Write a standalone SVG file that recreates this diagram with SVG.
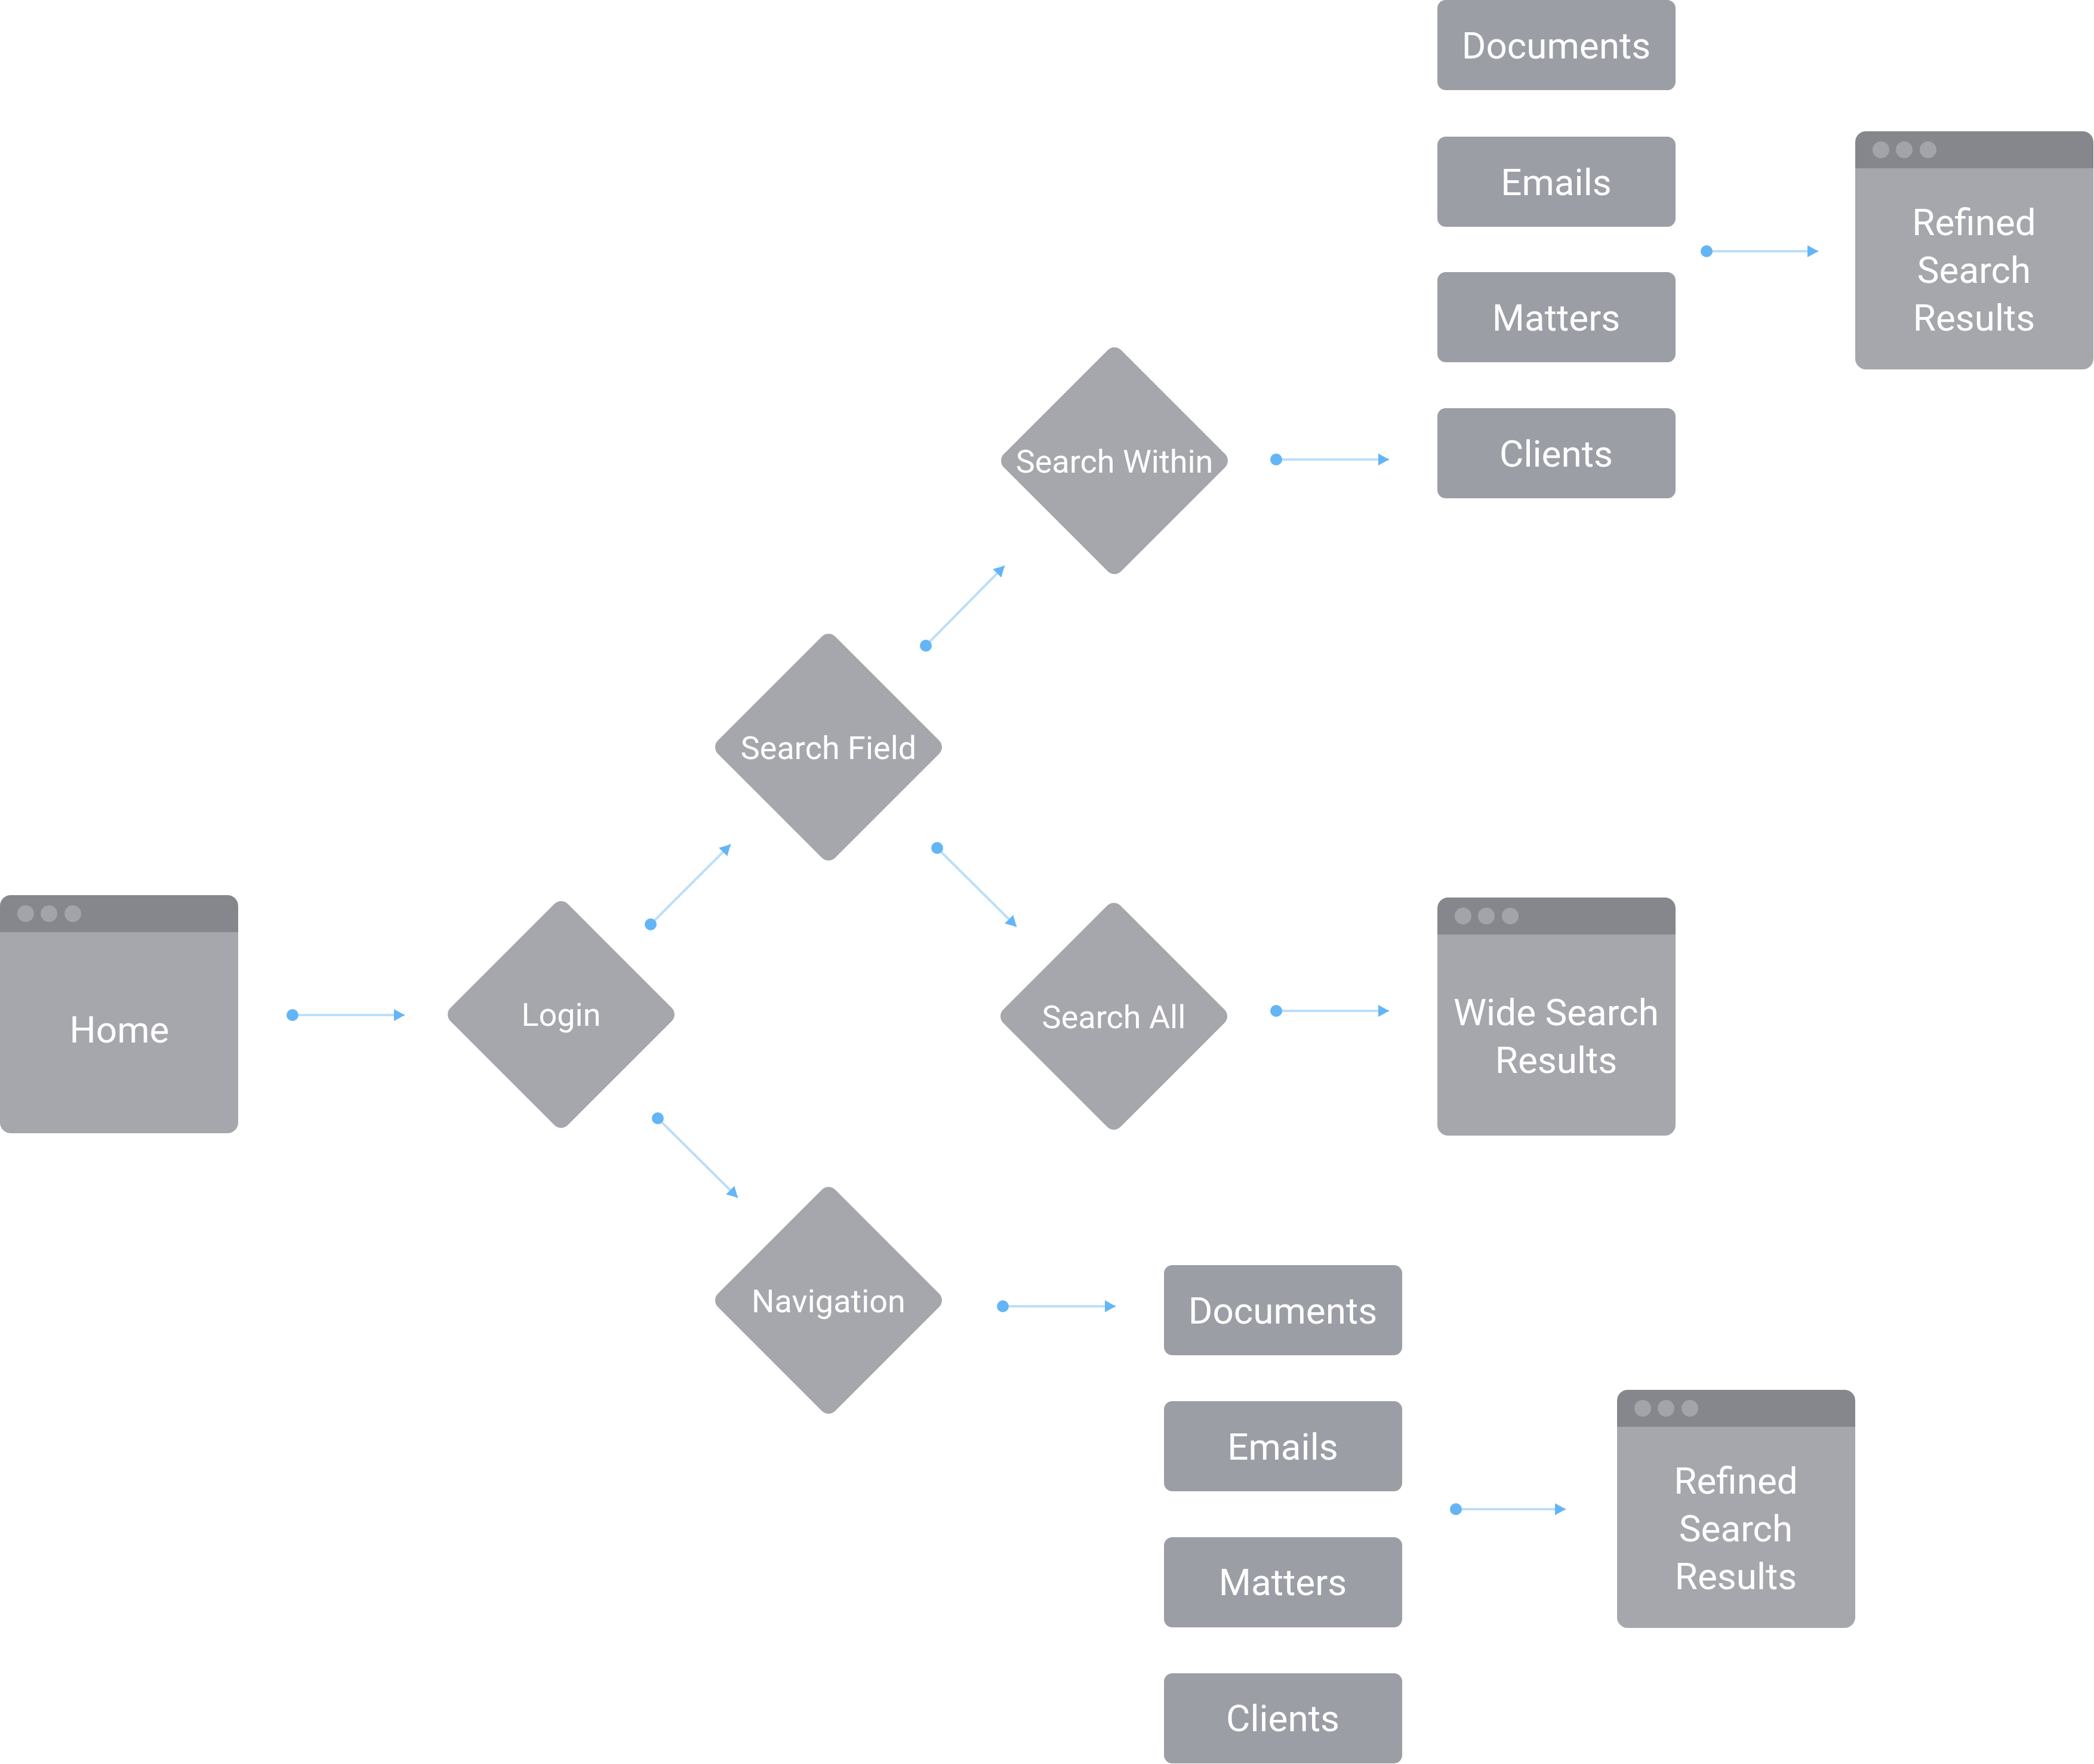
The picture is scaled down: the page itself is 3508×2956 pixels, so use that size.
<svg xmlns="http://www.w3.org/2000/svg" width="3508" height="2956" viewBox="0 0 3508 2956">
<style>
  .body{fill:#A6A7AC}
  .bar{fill:#86878C}
  .dot{fill:#A3A4A9}
  .box{fill:#9C9EA5}
  .dia{fill:#A6A7AC}
  .t{font-family:Roboto,"Liberation Sans",sans-serif;fill:#FFFFFF;text-anchor:middle}
  .tl{font-size:62px}
  .ts{font-size:54px}
  .conn line{stroke:#BBDEFB;stroke-width:4;fill:none;marker-start:url(#dotm);marker-end:url(#arr)}
</style>
<defs>
  <marker id="dotm" markerUnits="userSpaceOnUse" markerWidth="24" markerHeight="24" refX="12" refY="12" orient="auto">
    <circle cx="12" cy="12" r="10" fill="#64B5F6"/>
  </marker>
  <marker id="arr" markerUnits="userSpaceOnUse" markerWidth="22" markerHeight="22" refX="18" refY="11" orient="auto">
    <path d="M0,1 L18,11 L0,21 Z" fill="#64B5F6"/>
  </marker>
  <g id="win">
    <path class="bar" d="M0,62 V18 A18,18 0 0 1 18,0 H381 A18,18 0 0 1 399,18 V62 Z"/>
    <path class="body" d="M0,62 H399 V381 A18,18 0 0 1 381,399 H18 A18,18 0 0 1 0,381 Z"/>
    <circle class="dot" cx="43" cy="31" r="14"/>
    <circle class="dot" cx="82" cy="31" r="14"/>
    <circle class="dot" cx="122" cy="31" r="14"/>
  </g>
  <rect id="dm" x="-139" y="-139" width="278" height="278" rx="16" ry="16" transform="rotate(45)"/>
</defs>

<g id="connectors" class="conn">
  <line x1="490" y1="1701" x2="678" y2="1701"/>
  <line x1="1090" y1="1549" x2="1224" y2="1415"/>
  <line x1="1102" y1="1874" x2="1236" y2="2007"/>
  <line x1="1551" y1="1082" x2="1683" y2="948"/>
  <line x1="1570" y1="1421" x2="1703" y2="1553"/>
  <line x1="2138" y1="770" x2="2327" y2="770"/>
  <line x1="2138" y1="1694" x2="2327" y2="1694"/>
  <line x1="2859" y1="421" x2="3046" y2="421"/>
  <line x1="1680" y1="2189" x2="1869" y2="2189"/>
  <line x1="2439" y1="2529" x2="2623" y2="2529"/>
</g>

<g id="home">
  <use href="#win" x="0" y="1500"/>
  <text class="t tl" x="200" y="1747">Home</text>
</g>

<g id="login">
  <use href="#dm" class="dia" transform="translate(940,1700)"/>
  <text class="t ts" x="940" y="1719">Login</text>
</g>

<g id="search-field">
  <use href="#dm" class="dia" transform="translate(1388,1252)"/>
  <text class="t ts" x="1388" y="1272">Search Field</text>
</g>

<g id="search-within">
  <use href="#dm" class="dia" transform="translate(1867,772)"/>
  <text class="t ts" x="1867" y="792">Search Within</text>
</g>

<g id="search-all">
  <use href="#dm" class="dia" transform="translate(1866,1703)"/>
  <text class="t ts" x="1866" y="1723">Search All</text>
</g>

<g id="navigation">
  <use href="#dm" class="dia" transform="translate(1388,2179)"/>
  <text class="t ts" x="1388" y="2199">Navigation</text>
</g>

<g id="top-documents">
  <rect class="box" x="2408" y="0" width="399" height="151" rx="14"/>
  <text class="t tl" x="2607" y="98">Documents</text>
</g>
<g id="top-emails">
  <rect class="box" x="2408" y="229" width="399" height="151" rx="14"/>
  <text class="t tl" x="2607" y="327">Emails</text>
</g>
<g id="top-matters">
  <rect class="box" x="2408" y="456" width="399" height="151" rx="14"/>
  <text class="t tl" x="2607" y="554">Matters</text>
</g>
<g id="top-clients">
  <rect class="box" x="2408" y="684" width="399" height="151" rx="14"/>
  <text class="t tl" x="2607" y="782">Clients</text>
</g>

<g id="refined-top">
  <use href="#win" x="3108" y="220"/>
  <text class="t tl" x="3307" y="394">Refined</text>
  <text class="t tl" x="3307" y="474">Search</text>
  <text class="t tl" x="3307" y="554">Results</text>
</g>

<g id="wide-results">
  <use href="#win" x="2408" y="1504"/>
  <text class="t tl" x="2607" y="1718">Wide Search</text>
  <text class="t tl" x="2607" y="1798">Results</text>
</g>

<g id="bottom-documents">
  <rect class="box" x="1950" y="2120" width="399" height="151" rx="14"/>
  <text class="t tl" x="2149" y="2218">Documents</text>
</g>
<g id="bottom-emails">
  <rect class="box" x="1950" y="2348" width="399" height="151" rx="14"/>
  <text class="t tl" x="2149" y="2446">Emails</text>
</g>
<g id="bottom-matters">
  <rect class="box" x="1950" y="2576" width="399" height="151" rx="14"/>
  <text class="t tl" x="2149" y="2673">Matters</text>
</g>
<g id="bottom-clients">
  <rect class="box" x="1950" y="2804" width="399" height="151" rx="14"/>
  <text class="t tl" x="2149" y="2901">Clients</text>
</g>

<g id="refined-bottom">
  <use href="#win" x="2709" y="2329"/>
  <text class="t tl" x="2908" y="2503">Refined</text>
  <text class="t tl" x="2908" y="2583">Search</text>
  <text class="t tl" x="2908" y="2663">Results</text>
</g>
</svg>
